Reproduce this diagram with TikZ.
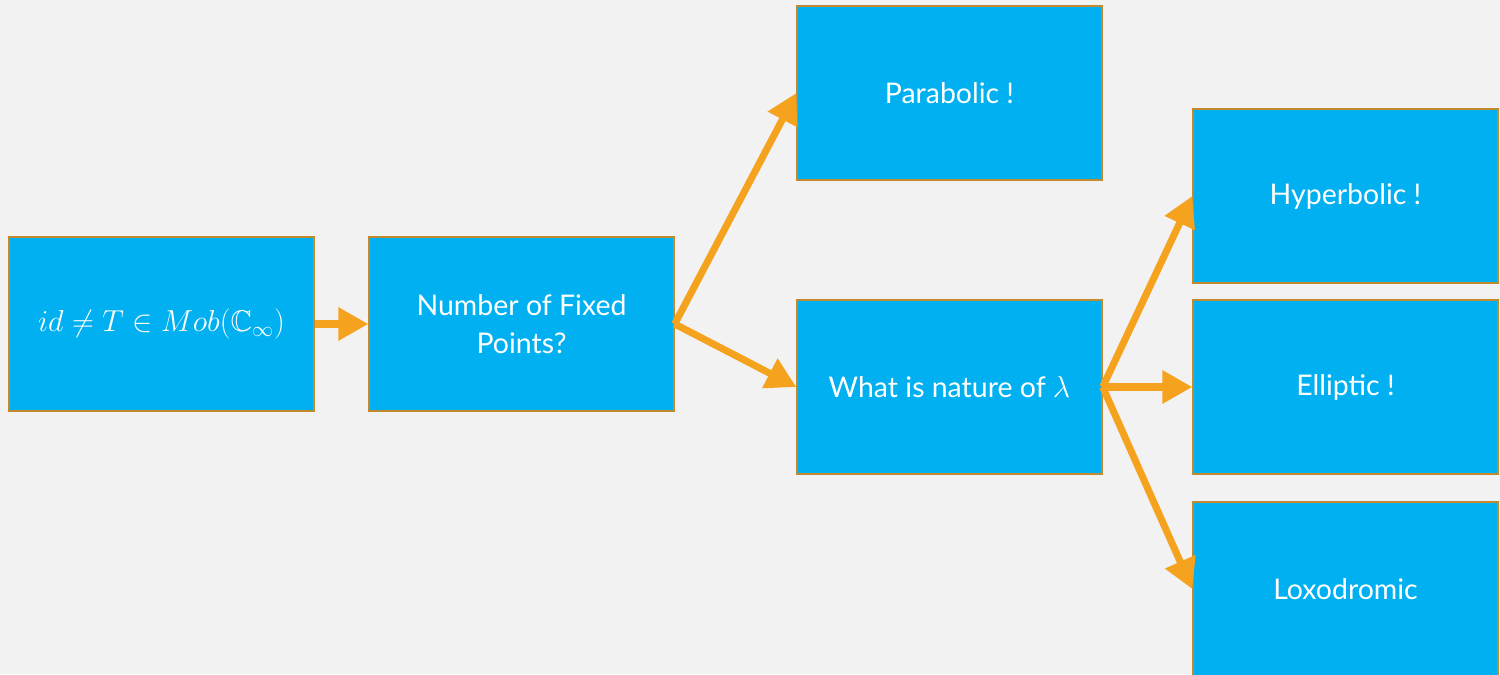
\documentclass[tikz,border=0pt]{standalone}
\usepackage{amsmath,amssymb}
\usepackage{fontspec}
\setmainfont{Lato}
\usepackage{tikz}
\usetikzlibrary{arrows.meta}
\definecolor{boxblue}{HTML}{00B0F0}
\definecolor{boxedge}{HTML}{C08A30}
\definecolor{arroworange}{HTML}{F5A31E}
\definecolor{slidegray}{HTML}{F2F2F2}

\begin{document}
\begin{tikzpicture}[x=0.02cm,y=-0.02cm,
  card/.style={draw=boxedge,line width=0.8pt,fill=boxblue,text=white,
    minimum width=6.1cm,minimum height=3.48cm,align=center,
    font=\fontsize{16.2}{21.5}\selectfont},
  flow/.style={draw=arroworange,line width=4pt,
    -{Triangle[length=17pt,width=18pt]}}]
\clip (0,0) rectangle (1500,674);
\fill[slidegray] (0,0) rectangle (1500,674);
\node[card] (start) at (161.5,324) {\fontsize{17}{20}\selectfont$id \neq T \in Mob(\mathbb{C}_\infty)$};
\node[card] (fixed) at (521.5,324) {Number of Fixed\\Points?};
\node[card] (para) at (949.5,93) {Parabolic !};
\node[card] (nature) at (949.5,387) {What is nature of $\lambda$};
\node[card] (hyper) at (1345.5,196) {Hyperbolic !};
\node[card] (ellip) at (1345.5,387) {Elliptic !};
\node[card] (loxo) at (1345.5,589) {Loxodromic};
\draw[flow] (start.east) -- (fixed.west);
\foreach \t in {para,nature}
\draw[flow] (fixed.east) -- (\t.west);
\foreach \t in {hyper,ellip,loxo}
\draw[flow] (nature.east) -- (\t.west);
\end{tikzpicture}
\end{document}
